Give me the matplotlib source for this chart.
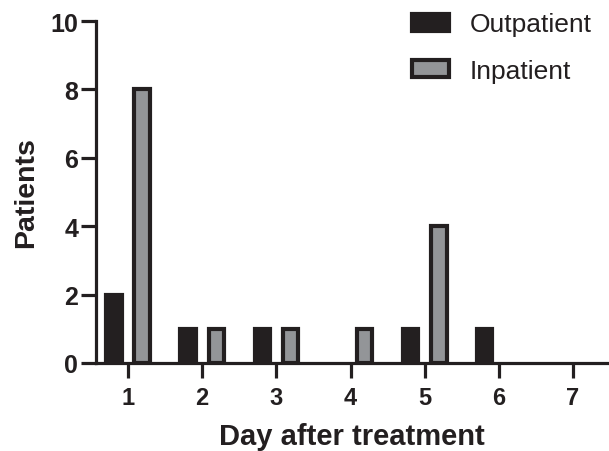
import numpy as np
import matplotlib.pyplot as plt

plt.rcParams['font.family'] = ['Liberation Sans', 'DejaVu Sans']

days = [1, 2, 3, 4, 5, 6, 7]
outpatient = [2, 1, 1, 0, 1, 1, 0]
inpatient = [8, 1, 1, 1, 4, 0, 0]

fig = plt.figure(figsize=(6.09, 4.52), dpi=100)
ax = fig.add_axes([0.158, 0.195, 0.84, 0.756])

x = np.array(days)
out = np.array(outpatient)
inp = np.array(inpatient)
w = 0.21
off = 0.19
ink = '#231f20'
# skip empty days so no flat outline is drawn on the axis
m1 = out > 0
m2 = inp > 0
ax.bar(x[m1] - off, out[m1], width=w, color=ink, edgecolor=ink,
       linewidth=3, label='Outpatient', zorder=3)
ax.bar(x[m2] + off, inp[m2], width=w, color='#939598', edgecolor=ink,
       linewidth=3, label='Inpatient', zorder=3)

ax.set_xlim(0.57, 7.47)
ax.set_ylim(0, 10)
ax.set_xticks(days)
ax.set_yticks([0, 2, 4, 6, 8, 10])
for s in ['top', 'right']:
    ax.spines[s].set_visible(False)
for s in ['left', 'bottom']:
    ax.spines[s].set_linewidth(2.3)
    ax.spines[s].set_color(ink)
ax.spines['bottom'].set_zorder(4)
ax.tick_params(axis='both', length=11, width=2.3, color=ink, direction='out')
ax.tick_params(axis='y', labelsize=18, pad=2)
ax.tick_params(axis='x', labelsize=17, pad=6)
for t in ax.get_xticklabels() + ax.get_yticklabels():
    t.set_fontweight('bold')
    t.set_color(ink)

ax.set_xlabel('Day after treatment', fontsize=21, fontweight='bold', color=ink, labelpad=9)
ax.set_ylabel('Patients', fontsize=20.5, fontweight='bold', color=ink, labelpad=8)

leg = ax.legend(loc='upper right', bbox_to_anchor=(1.015, 1.095), frameon=False,
                fontsize=19, handlelength=1.4, handleheight=0.6,
                labelspacing=0.85, handletextpad=0.8)
for t in leg.get_texts():
    t.set_color(ink)

fig.savefig('out.png', dpi=100)
